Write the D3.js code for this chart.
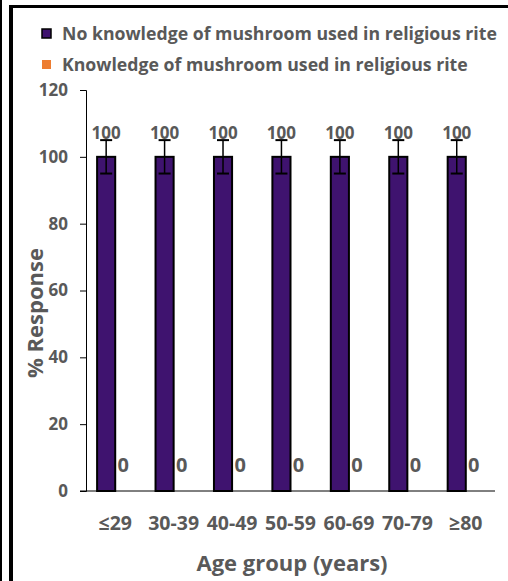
<!DOCTYPE html>
<html lang="en">
  <head>
    <meta charset="UTF-8" />
    <title>Mushroom knowledge by age group</title>
    <script src="https://d3js.org/d3.v7.min.js"></script>
    <style>
      body { margin: 0; background: #fff; }
      svg { display: block; }
      text { font-family: "Open Sans", sans-serif; font-weight: bold; fill: #595959; }
    </style>
  </head>
  <body>
    <div class="chart"></div>
    <script>
      // values
      const ageGroups = ["≤29", "30-39", "40-49", "50-59", "60-69", "70-79", "≥80"];
      const noKnowledge = [100, 100, 100, 100, 100, 100, 100];
      const knowledge = [0, 0, 0, 0, 0, 0, 0];
      const noKnowledgeErr = [5, 5, 5, 5, 5, 5, 5];
      const seriesNames = ["No knowledge of mushroom used in religious rite", "Knowledge of mushroom used in religious rite"];
      const yTicks = [0, 20, 40, 60, 80, 100, 120];

      let width = 508, height = 581;
      let svg = d3.select(".chart").append("svg")
        .attr("width", width)
        .attr("height", height);

      // frame lines like the screenshot
      svg.append("rect").attr("x", 0).attr("y", 0).attr("width", 2).attr("height", height).attr("fill", "#000");
      svg.append("rect").attr("x", 9).attr("y", 5).attr("width", 4).attr("height", height - 5).attr("fill", "#000");
      svg.append("rect").attr("x", 9).attr("y", 5).attr("width", width - 9).attr("height", 3).attr("fill", "#000");

      const purple = "#3f136f", orange = "#ED7D31";

      let x0 = d3.scaleBand().domain(ageGroups).range([86, 495]).paddingInner(0.38).paddingOuter(0.19);
      let x1 = d3.scaleBand().domain([0, 1]).range([0, x0.bandwidth()]);
      let y = d3.scaleLinear().domain([0, 120]).range([491, 90]);

      // y axis
      let yAxis = svg.append("g")
        .attr("transform", "translate(86,0)")
        .call(d3.axisLeft(y).tickValues(yTicks).tickSize(6).tickPadding(12));
      yAxis.select(".domain").attr("stroke", "#000").attr("stroke-width", 1);
      yAxis.selectAll(".tick line").attr("stroke", "#000");
      yAxis.selectAll("text").attr("font-size", 17).attr("fill", "#595959")
        .style("font-family", "'Open Sans', sans-serif").style("font-weight", "bold");

      // bars
      let groups = svg.append("g").selectAll("g")
        .data(ageGroups)
        .enter()
        .append("g")
        .attr("transform", d => `translate(${x0(d)},0)`);

      groups.append("rect")
        .attr("x", x1(0))
        .attr("width", x1.bandwidth())
        .attr("y", (d, i) => y(noKnowledge[i]))
        .attr("height", (d, i) => y(0) - y(noKnowledge[i]))
        .attr("fill", purple)
        .attr("stroke", "#000")
        .attr("stroke-width", 2);

      groups.append("rect")
        .attr("x", x1(1))
        .attr("width", x1.bandwidth())
        .attr("y", (d, i) => y(knowledge[i]))
        .attr("height", (d, i) => y(0) - y(knowledge[i]))
        .attr("fill", orange);

      // error bars
      const cx = x1(0) + x1.bandwidth() / 2;
      groups.append("line")
        .attr("x1", cx).attr("x2", cx)
        .attr("y1", (d, i) => y(noKnowledge[i] + noKnowledgeErr[i]))
        .attr("y2", (d, i) => y(noKnowledge[i] - noKnowledgeErr[i]))
        .attr("stroke", "#000").attr("stroke-width", 1.5);
      [1, -1].forEach(s => {
        groups.append("line")
          .attr("x1", cx - 6).attr("x2", cx + 6)
          .attr("y1", (d, i) => y(noKnowledge[i] + s * noKnowledgeErr[i]))
          .attr("y2", (d, i) => y(noKnowledge[i] + s * noKnowledgeErr[i]))
          .attr("stroke", "#000").attr("stroke-width", 2);
      });

      // data labels
      groups.append("text")
        .attr("x", cx)
        .attr("y", (d, i) => y(noKnowledge[i] + noKnowledgeErr[i]) - 1)
        .attr("text-anchor", "middle")
        .attr("font-size", 17)
        .text((d, i) => noKnowledge[i]);

      groups.append("text")
        .attr("x", x1(1) + x1.bandwidth() / 2 - 1)
        .attr("y", (d, i) => y(knowledge[i]) - 19)
        .attr("text-anchor", "middle")
        .attr("font-size", 20)
        .text((d, i) => knowledge[i]);

      // x axis line
      svg.append("line")
        .attr("x1", 80).attr("x2", 495)
        .attr("y1", y(0)).attr("y2", y(0))
        .attr("stroke", "#000").attr("stroke-width", 1);

      svg.append("g").selectAll("text")
        .data(ageGroups)
        .enter()
        .append("text")
        .attr("x", d => x0(d) + x0.bandwidth() / 2)
        .attr("y", 530)
        .attr("text-anchor", "middle")
        .attr("font-size", 19.5)
        .text(d => d);

      // axis titles
      svg.append("text")
        .attr("x", 292).attr("y", 571)
        .attr("text-anchor", "middle")
        .attr("font-size", 22)
        .text("Age group (years)");

      svg.append("text")
        .attr("transform", "translate(43,313) rotate(-90)")
        .attr("text-anchor", "middle")
        .attr("font-size", 22)
        .text("% Response");

      // legend
      const legendColors = [purple, orange];
      let legend = svg.append("g").selectAll("g")
        .data(seriesNames)
        .enter()
        .append("g")
        .attr("transform", (d, i) => `translate(42,${29 + i * 31})`);
      legend.append("rect")
        .attr("width", 9).attr("height", 9)
        .attr("fill", (d, i) => legendColors[i])
        .attr("stroke", (d, i) => i === 0 ? "#000" : "none")
        .attr("stroke-width", 1.5);
      legend.append("text")
        .attr("x", 20).attr("y", 11)
        .attr("font-size", 17.7)
        .text(d => d);
    </script>
  </body>
</html>
